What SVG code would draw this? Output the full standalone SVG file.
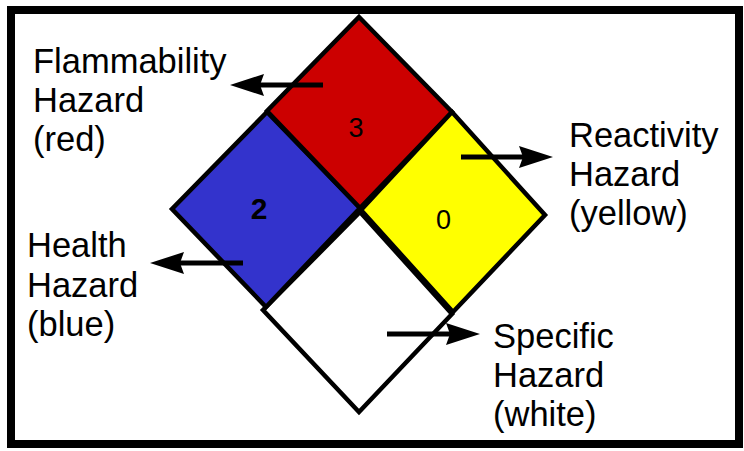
<svg xmlns="http://www.w3.org/2000/svg" width="744" height="451" viewBox="0 0 744 451">
<style>
.lbl{font-family:"Liberation Sans",Arial,sans-serif;font-size:34.5px;fill:#000}
.num{font-family:"Liberation Sans",Arial,sans-serif;font-size:27px;fill:#000;text-anchor:middle}
.big{font-size:30px;font-weight:bold}
.sq{stroke:#000;stroke-width:4.5;stroke-linejoin:miter}
.arr{stroke:#000;stroke-width:5;fill:none}
</style>
<defs>
<marker id="ah" markerUnits="userSpaceOnUse" viewBox="0 0 34 22" markerWidth="34" markerHeight="22" refX="24" refY="11" orient="auto">
<path d="M0,0 L34,11 L0,22 L4,11 Z" fill="#000"/>
</marker>
</defs>
<rect id="frame" x="11" y="10" width="728" height="434" fill="#fff" stroke="#000" stroke-width="8"/>
<g id="white-square"><polygon class="sq" fill="#fff" points="360,212 452,314 359,412 263,310"/></g>
<g id="blue-square"><polygon class="sq" fill="#3333CC" points="267,112 360,208 266,307 172,209"/><text class="num big" x="259" y="219">2</text></g>
<g id="red-square"><polygon class="sq" fill="#CC0000" points="359,17 452,112 360,208 267,111"/><text class="num" x="356" y="137">3</text></g>
<g id="yellow-square"><polygon class="sq" fill="#FFFF00" points="452,112 545,215 453,312 361,210"/><text class="num" x="443.5" y="229">0</text></g>
<g id="label-flammability"><text class="lbl" x="33" y="73">Flammability</text><text class="lbl" x="33" y="112">Hazard</text><text class="lbl" x="33" y="151">(red)</text></g>
<g id="label-health"><text class="lbl" x="27" y="257">Health</text><text class="lbl" x="27" y="297">Hazard</text><text class="lbl" x="27" y="336">(blue)</text></g>
<g id="label-reactivity"><text class="lbl" x="569" y="147">Reactivity</text><text class="lbl" x="569" y="186">Hazard</text><text class="lbl" x="569" y="225">(yellow)</text></g>
<g id="label-specific"><text class="lbl" x="493" y="348">Specific</text><text class="lbl" x="493" y="387">Hazard</text><text class="lbl" x="493" y="426">(white)</text></g>
<g id="connectors">
<line class="arr" x1="323" y1="85" x2="240" y2="85" marker-end="url(#ah)"/>
<line class="arr" x1="243" y1="263" x2="160" y2="263" marker-end="url(#ah)"/>
<line class="arr" x1="461" y1="157" x2="543" y2="157" marker-end="url(#ah)"/>
<line class="arr" x1="387" y1="334" x2="470" y2="334" marker-end="url(#ah)"/>
</g>
</svg>
